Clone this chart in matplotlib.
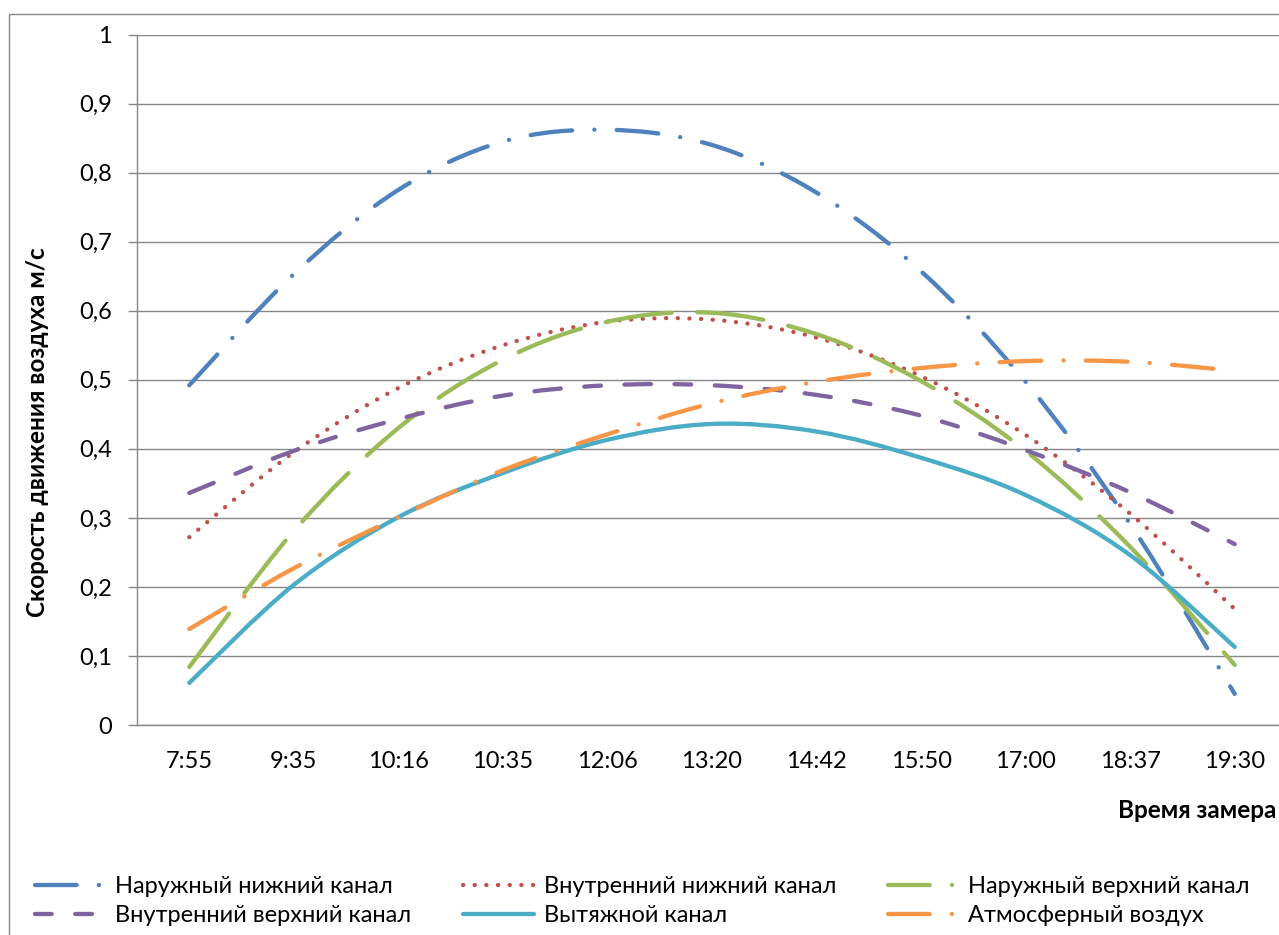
import matplotlib
matplotlib.use("Agg")
import matplotlib.pyplot as plt
from matplotlib.path import Path
from matplotlib.patches import PathPatch, Rectangle
from matplotlib.lines import Line2D
from matplotlib.ticker import MultipleLocator, FuncFormatter

plt.rcParams['font.family'] = ['Lato', 'Open Sans', 'DejaVu Sans']
plt.rcParams['lines.scale_dashes'] = False

times = ["7:55", "9:35", "10:16", "10:35", "12:06", "13:20",
         "14:42", "15:50", "17:00", "18:37", "19:30"]

outer_low = [0.492, 0.653, 0.775, 0.845, 0.862, 0.840, 0.771, 0.657, 0.497, 0.291, 0.045]
inner_low = [0.272, 0.395, 0.488, 0.550, 0.584, 0.587, 0.561, 0.505, 0.420, 0.306, 0.168]
outer_high = [0.084, 0.281, 0.430, 0.529, 0.584, 0.597, 0.566, 0.498, 0.397, 0.258, 0.087]
inner_high = [0.336, 0.397, 0.443, 0.477, 0.492, 0.492, 0.478, 0.448, 0.398, 0.337, 0.262]
exhaust = [0.061, 0.203, 0.301, 0.365, 0.413, 0.436, 0.425, 0.387, 0.333, 0.246, 0.113]
ambient = [0.139, 0.227, 0.301, 0.369, 0.421, 0.466, 0.497, 0.517, 0.527, 0.526, 0.513]

names = ["Наружный нижний канал", "Внутренний нижний канал", "Наружный верхний канал",
         "Внутренний верхний канал", "Вытяжной канал", "Атмосферный воздух"]
colors = ["#4F81BD", "#C0504D", "#9BBB59", "#8064A2", "#4BACC6", "#F79646"]
# dash patterns in points (on, off, ...): curve, then legend sample
dash_dot = (30, 16, 0.1, 16)
dashes = [dash_dot, (0.1, 8.3), (48, 18.4), (19, 17, 12, 17), None, dash_dot]
legend_dashes = [dash_dot, (0.1, 8.3), dash_dot, (12, 17), None, dash_dot]
series = [outer_low, inner_low, outer_high, inner_high, exhaust, ambient]

LW = 3.1
GRID = "#868686"
FS = 17


def smooth_path(xs, ys):
    # Bezier curve through the points, like Excel's smoothed line
    n = len(xs)
    verts = [(xs[0], ys[0])]
    codes = [Path.MOVETO]
    for i in range(n - 1):
        a, b = max(i - 1, 0), min(i + 2, n - 1)
        verts.append((xs[i] + (xs[i + 1] - xs[a]) / 6, ys[i] + (ys[i + 1] - ys[a]) / 6))
        verts.append((xs[i + 1] - (xs[b] - xs[i]) / 6, ys[i + 1] - (ys[b] - ys[i]) / 6))
        verts.append((xs[i + 1], ys[i + 1]))
        codes += [Path.CURVE4] * 3
    return Path(verts, codes)


def fmt(v, pos):
    s = f"{v:.1f}".replace(".", ",")
    return s[:-2] if s.endswith(",0") else s


W, H = 1279, 935
fig = plt.figure(figsize=(W / 100, H / 100), dpi=100)
fig.patches.append(Rectangle((9 / W, -0.1), 2, 1.1 - 14 / H, transform=fig.transFigure,
                             fill=False, edgecolor=GRID, lw=1))

ax = fig.add_axes([137 / W, 1 - 725 / H, (1287 - 137) / W, (725 - 34.5) / H])
ax.set_xlim(-0.5, len(times) - 0.5)
ax.set_ylim(0, 1)

xs = list(range(len(times)))
handles = []
for vals, c, d, ld in zip(series, colors, dashes, legend_dashes):
    ls = '-' if d is None else (0, d)
    ax.add_patch(PathPatch(smooth_path(xs, vals), fill=False, edgecolor=c, lw=LW,
                           linestyle=ls, capstyle='round', joinstyle='round', zorder=3))
    h = Line2D([], [], color=c, lw=LW, solid_capstyle='round', dash_capstyle='round')
    if ld is not None:
        h.set_dashes(ld)
    handles.append(h)

ax.set_xticks(xs)
ax.set_xticklabels(times)
ax.yaxis.set_major_locator(MultipleLocator(0.1))
ax.yaxis.set_major_formatter(FuncFormatter(fmt))
ax.tick_params(axis='x', length=0, pad=19, labelsize=FS)
ax.tick_params(axis='y', length=6.5, width=1, color=GRID, pad=11.5, labelsize=FS)

ax.set_axisbelow(True)
ax.yaxis.grid(True, color=GRID, lw=1)
for s in ('top', 'right'):
    ax.spines[s].set_visible(False)
for s in ('left', 'bottom'):
    ax.spines[s].set_color(GRID)
    ax.spines[s].set_linewidth(1)

fig.text(38 / W, 1 - 432 / H, "Скорость движения воздуха м/с", rotation=90,
         ha='center', va='center', fontsize=17.5, fontweight='bold')
fig.text(1118 / W, 1 - 811 / H, "Время замера", ha='left', va='center',
         fontsize=17.5, fontweight='bold')

order = [0, 3, 1, 4, 2, 5]
fig.legend([handles[i] for i in order], [names[i] for i in order], ncol=3,
           loc='upper left', bbox_to_anchor=(35 / W, 1 - 876 / H), frameon=False,
           borderpad=0, borderaxespad=0, fontsize=FS, handlelength=3.0,
           handletextpad=0.4, columnspacing=2.2, labelspacing=0.35)

fig.savefig("out.png", dpi=100)
